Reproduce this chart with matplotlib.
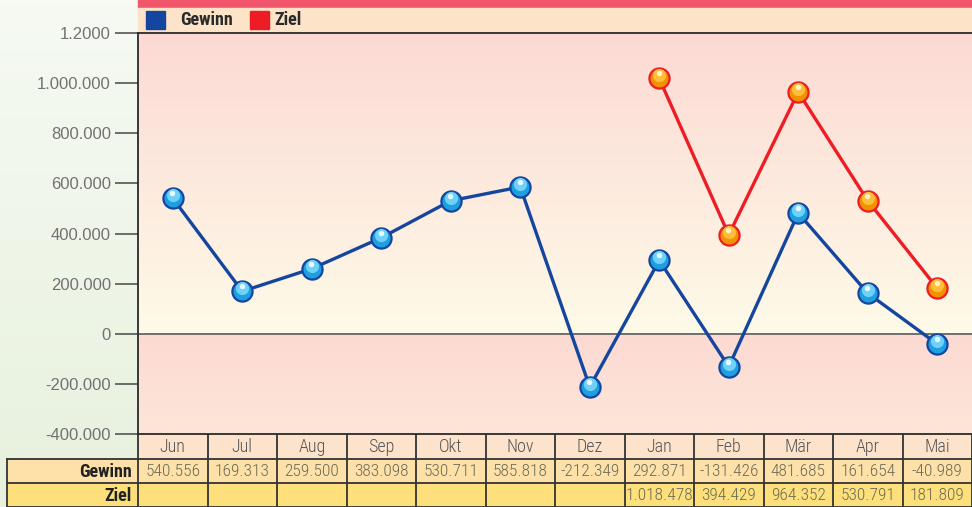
import matplotlib
matplotlib.use("Agg")
import matplotlib.pyplot as plt
import numpy as np
from matplotlib import font_manager
from matplotlib.colors import LinearSegmentedColormap
from matplotlib.patches import Rectangle
import matplotlib.transforms as mtransforms

# data
months = ["Jun", "Jul", "Aug", "Sep", "Okt", "Nov", "Dez", "Jan", "Feb", "Mär", "Apr", "Mai"]
gewinn = [540556, 169313, 259500, 383098, 530711, 585818, -212349, 292871, -131426, 481685, 161654, -40989]
ziel = [None, None, None, None, None, None, None, 1018478, 394429, 964352, 530791, 181809]
yticks = [-400000, -200000, 0, 200000, 400000, 600000, 800000, 1000000, 1200000]
ytick_labels = ["-400.000", "-200.000", "0", "200.000", "400.000", "600.000", "800.000", "1.000.000", "1.2000"]

# pick a condensed face if one is around, else plain Liberation Sans
installed = {f.name for f in font_manager.fontManager.ttflist}
candidates = ["Roboto Condensed", "Archivo Narrow", "PT Sans Narrow", "Liberation Sans Narrow",
              "Fira Sans Condensed", "IBM Plex Sans Condensed", "Encode Sans Condensed",
              "Asap Condensed", "Open Sans Condensed", "Barlow Semi Condensed"]
narrow_name = next((c for c in candidates if c in installed), None)
if narrow_name:
    NARROW = [narrow_name, "DejaVu Sans"]
    nsize = 12.5
else:
    NARROW = ["Liberation Sans", "DejaVu Sans"]
    nsize = 10
REG = ["Liberation Sans", "DejaVu Sans"]

W, H = 972, 507
fig = plt.figure(figsize=(W / 100, H / 100), dpi=100)


def fx(px):
    return px / W


def fy(py):
    return 1 - py / H


def fmt(v):
    s = f"{abs(v):,}".replace(",", ".")
    return ("-" if v < 0 else "") + s


# background / overlay axes in pixel coordinates
bg = fig.add_axes([0, 0, 1, 1], zorder=0)
bg.set_xlim(0, W)
bg.set_ylim(H, 0)
bg.axis("off")
green = LinearSegmentedColormap.from_list("g", ["#f6faf3", "#e7f1dd"])
bg.imshow(np.linspace(0, 1, 100).reshape(-1, 1), cmap=green, aspect="auto",
          extent=[0, W, H, 0], zorder=0)

# top stripe and legend band
L, R, TOP, BOT = 138, 972, 33, 434
bg.add_patch(Rectangle((L, 0), R - L, 8, color="#f2566c", zorder=1))
bg.add_patch(Rectangle((L, 8), R - L, TOP - 8, color="#fde3c8", zorder=1))
bg.add_patch(Rectangle((146, 11), 19, 18, color="#1446a0", zorder=2))
bg.text(180, 20, "Gewinn", fontsize=13, fontweight="bold", family=NARROW,
        color="#2a2a2a", va="center", ha="left", zorder=3)
bg.add_patch(Rectangle((250, 11), 19, 18, color="#ee1c25", zorder=2))
bg.text(274, 20, "Ziel", fontsize=13, fontweight="bold", family=NARROW,
        color="#2a2a2a", va="center", ha="left", zorder=3)

# category row and data table
colw = (R - L) / len(months)
bg.add_patch(Rectangle((L, BOT), R - L, 24, facecolor="#fde3cc", edgecolor="none", zorder=1))
for i in range(len(months) + 1):
    bg.plot([L + i * colw] * 2, [BOT, BOT + 24], color="#333333", lw=1.3, zorder=2)
for i, m in enumerate(months):
    bg.text(L + (i + 0.5) * colw, BOT + 13, m, fontsize=13, fontweight="light", family=NARROW,
            color="#555555", ha="center", va="center", zorder=3)

T0, RH = 459, 24
rows = [("Gewinn", gewinn, "#fde1a8"), ("Ziel", ziel, "#fde07c")]
for r, (name, vals, col) in enumerate(rows):
    y0 = T0 + r * RH
    bg.add_patch(Rectangle((7, y0), R - 7, RH, facecolor=col, edgecolor="none", zorder=1))
    bg.text(L - 6, y0 + RH / 2 + 1, name, fontsize=13, fontweight="bold", family=NARROW,
            color="#222222", ha="right", va="center", zorder=3)
    for i, v in enumerate(vals):
        if v is None:
            continue
        bg.text(L + (i + 0.5) * colw, y0 + RH / 2 + 1, fmt(v), fontsize=nsize,
                fontweight="light", family=NARROW,
                color="#6b6a55", ha="center", va="center", zorder=3)
for r in range(3):
    bg.plot([7, R], [T0 + r * RH] * 2, color="#333333", lw=1.3, zorder=2)
bg.plot([7, 7], [T0, H], color="#333333", lw=1.3, zorder=2)
for i in range(len(months) + 1):
    bg.plot([L + i * colw] * 2, [T0, H], color="#333333", lw=1.3, zorder=2)

# main plot
ax = fig.add_axes([fx(L), fy(BOT), fx(R - L), (BOT - TOP) / H], zorder=2)
ax.set_xlim(-0.5, len(months) - 0.5)
ax.set_ylim(yticks[0], yticks[-1])
ax.patch.set_alpha(0)

upper = LinearSegmentedColormap.from_list("u", ["#fcdad3", "#fefae8"])
lower = LinearSegmentedColormap.from_list("l", ["#fcdad3", "#fde6d8"])
grad = np.linspace(0, 1, 100).reshape(-1, 1)
ax.imshow(grad, cmap=upper, aspect="auto", origin="upper",
          extent=[-0.5, len(months) - 0.5, 0, yticks[-1]], zorder=0)
ax.imshow(grad, cmap=lower, aspect="auto", origin="upper",
          extent=[-0.5, len(months) - 0.5, yticks[0], 0], zorder=0)
ax.axhline(0, color="#666666", lw=1.3, zorder=1)

x = np.arange(len(months))
zx = [i for i, v in enumerate(ziel) if v is not None]
zy = [v for v in ziel if v is not None]

hl = mtransforms.offset_copy(ax.transData, fig=fig, x=0, y=2.2, units="points")
hl2 = mtransforms.offset_copy(ax.transData, fig=fig, x=-0.5, y=3.6, units="points")

ax.plot(x, gewinn, color="#1446a0", lw=2.4, zorder=3)
ax.plot(x, gewinn, "o", ms=14.5, mfc="#1e9fe0", mec="#1446a0", mew=1.6, zorder=4)
ax.plot(x, gewinn, "o", ms=9.5, mfc="#6fd0f8", mec="none", transform=hl, zorder=5)
ax.plot(x, gewinn, "o", ms=4, mfc="#e8f8ff", mec="none", transform=hl2, zorder=6)

ax.plot(zx, zy, color="#ee1c25", lw=2.4, zorder=3)
ax.plot(zx, zy, "o", ms=14.5, mfc="#f39200", mec="#ee1c25", mew=1.6, zorder=4)
ax.plot(zx, zy, "o", ms=9.5, mfc="#ffbe3a", mec="none", transform=hl, zorder=5)
ax.plot(zx, zy, "o", ms=4, mfc="#fff2c0", mec="none", transform=hl2, zorder=6)

ax.set_xticks([])
ax.set_yticks(yticks)
ax.set_yticklabels(ytick_labels, family=REG, fontsize=12, color="#727272")
ax.tick_params(axis="y", length=16.5, width=1.2, color="#555555", pad=3)
for s in ["left", "top", "bottom"]:
    ax.spines[s].set_color("#2a2a2a")
    ax.spines[s].set_linewidth(1.3)
ax.spines["right"].set_visible(False)

fig.savefig("out.png", dpi=100)
